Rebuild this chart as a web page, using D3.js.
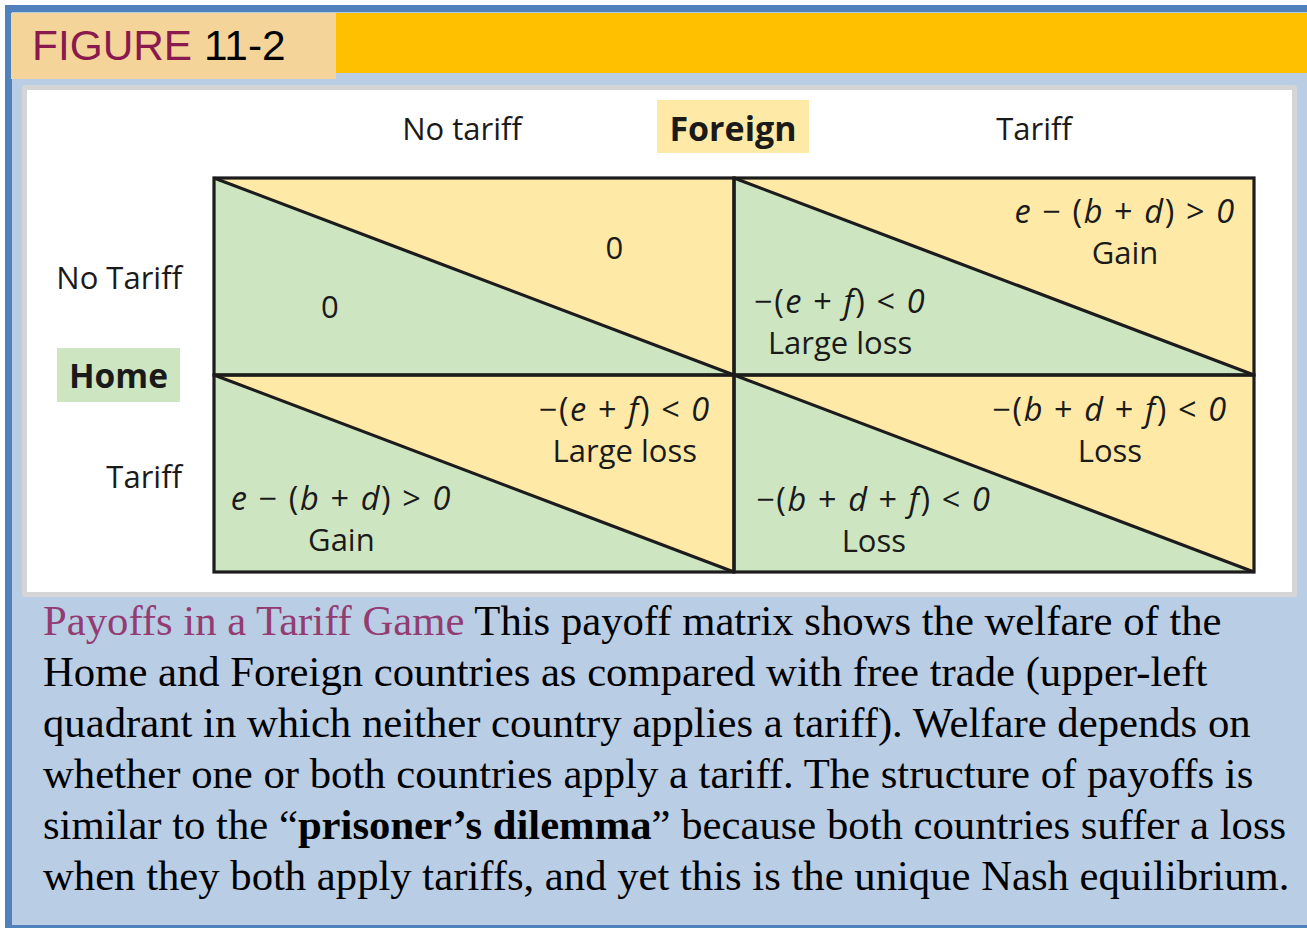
<!DOCTYPE html>
<html>
<head>
<meta charset="utf-8">
<script src="https://cdn.jsdelivr.net/npm/d3@7"></script>
<style>
  html, body { margin: 0; padding: 0; background: #ffffff; }
  svg { display: block; }
</style>
</head>
<body>
<svg id="chart" width="1307" height="928"></svg>
<script>
// ---------------- DATA ----------------
const figureLabel = "FIGURE";
const figureNumber = "11-2";
const playerColumn = "Foreign";
const playerRow = "Home";
const colCategories = ["No tariff", "Tariff"];
const rowCategories = ["No Tariff", "Tariff"];
// payoffs [row][col] : each as list of lines; first line may be a formula
const foreignPayoffs = [
  [["0"], ["e − (b + d) > 0", "Gain"]],
  [["−(e + f) < 0", "Large loss"], ["−(b + d + f) < 0", "Loss"]]
];
const homePayoffs = [
  [["0"], ["−(e + f) < 0", "Large loss"]],
  [["e − (b + d) > 0", "Gain"], ["−(b + d + f) < 0", "Loss"]]
];
const captionTitle = "Payoffs in a Tariff Game";
const captionLines = [
  [{t: " This payoff matrix shows the welfare of the"}],
  [{t: "Home and Foreign countries as compared with free trade (upper-left"}],
  [{t: "quadrant in which neither country applies a tariff). Welfare depends on"}],
  [{t: "whether one or both countries apply a tariff. The structure of payoffs is"}],
  [{t: "similar to the “"}, {t: "prisoner’s dilemma", b: true}, {t: "” because both countries suffer a loss"}],
  [{t: "when they both apply tariffs, and yet this is the unique Nash equilibrium."}]
];

// ---------------- DRAW ----------------
const svg = d3.select("#chart");
const W = 1307, H = 928;
const C = {
  darkBlue: "#4f81bd", lightBlue: "#b9cde5", tan: "#f4d499", orange: "#ffc000",
  gray: "#d5d5d5", green: "#cde6c1", yellow: "#feeaa6", line: "#1c1c1c",
  maroon: "#8a1a4e", purple: "#923c72"
};
const sans = "'Open Sans', 'Noto Sans', sans-serif";
const serif = "'Liberation Serif', 'Times New Roman', serif";

// frame
svg.append("rect").attr("x", 5).attr("y", 5).attr("width", W - 5).attr("height", H - 5)
  .attr("fill", C.darkBlue);
svg.append("rect").attr("x", 12).attr("y", 12).attr("width", W - 12).attr("height", H - 15)
  .attr("fill", C.lightBlue);
svg.append("rect").attr("x", 336).attr("y", 13).attr("width", W - 336).attr("height", 60)
  .attr("fill", C.orange);
svg.append("rect").attr("x", 11).attr("y", 13).attr("width", 325).attr("height", 66)
  .attr("fill", C.tan);
const ft = svg.append("text").attr("x", 32).attr("y", 60)
  .attr("font-family", "'Liberation Sans', Arial, sans-serif").attr("font-size", 42.4);
ft.append("tspan").attr("fill", C.maroon).text(figureLabel + " ");
ft.append("tspan").attr("fill", "#000").text(figureNumber);

// white panel
svg.append("rect").attr("x", 22).attr("y", 85).attr("width", 1275).attr("height", 512)
  .attr("rx", 3).attr("fill", C.gray);
svg.append("rect").attr("x", 27).attr("y", 90).attr("width", 1265).attr("height", 502)
  .attr("fill", "#ffffff");

// scales
const x = d3.scaleBand().domain(colCategories).range([214, 1254]).padding(0);
const y = d3.scaleBand().domain(rowCategories).range([178, 572]).padding(0);
const bw = x.bandwidth(), bh = y.bandwidth();

const cells = [];
rowCategories.forEach((r, i) => colCategories.forEach((c, j) => cells.push({r, c, i, j})));

const g = svg.append("g");
// triangles
g.selectAll("path.fg").data(cells).join("path")
  .attr("d", d => { const x0 = x(d.c), y0 = y(d.r);
    return `M${x0},${y0}L${x0 + bw},${y0}L${x0 + bw},${y0 + bh}Z`; })
  .attr("fill", C.yellow);
g.selectAll("path.hm").data(cells).join("path")
  .attr("d", d => { const x0 = x(d.c), y0 = y(d.r);
    return `M${x0},${y0}L${x0},${y0 + bh}L${x0 + bw},${y0 + bh}Z`; })
  .attr("fill", C.green);
// diagonals
g.selectAll("line.diag").data(cells).join("line")
  .attr("x1", d => x(d.c)).attr("y1", d => y(d.r))
  .attr("x2", d => x(d.c) + bw).attr("y2", d => y(d.r) + bh)
  .attr("stroke", C.line).attr("stroke-width", 3.2);
// grid
g.selectAll("rect.cell").data(cells).join("rect")
  .attr("x", d => x(d.c)).attr("y", d => y(d.r)).attr("width", bw).attr("height", bh)
  .attr("fill", "none").attr("stroke", C.line).attr("stroke-width", 3.2);

// payoff texts
function writeLines(sel, lines, cx, by, lh) {
  lines.forEach((ln, k) => {
    const t = sel.append("text").attr("x", cx).attr("y", by + k * lh)
      .attr("text-anchor", "middle").attr("font-family", sans).attr("font-size", 31)
      .attr("fill", "#1a1a1a");
    const isFormula = /[<>]/.test(ln);
    if (!isFormula) { t.text(ln); return; }
    t.attr("letter-spacing", 1.6).attr("font-size", 32.5);
    // split into runs: letters/digits italic
    const runs = [];
    for (const ch of ln) {
      const it = /[a-z0-9]/.test(ch);
      if (runs.length && runs[runs.length - 1].it === it) runs[runs.length - 1].s += ch;
      else runs.push({s: ch, it});
    }
    runs.forEach(rn => t.append("tspan").attr("font-style", rn.it ? "italic" : "normal")
      .text(rn.s));
  });
}
// text placement inside cell (fractions of band)
const foreignPos = [[[0.77, 0.41], [0.752, 0.23]], [[0.79, 0.235], [0.723, 0.235]]];
const homePos = [[[0.223, 0.71], [0.204, 0.685]], [[0.245, 0.685], [0.269, 0.69]]];
cells.forEach(d => {
  const x0 = x(d.c), y0 = y(d.r);
  const fp = foreignPos[d.i][d.j], hp = homePos[d.i][d.j];
  writeLines(g, foreignPayoffs[d.i][d.j], x0 + fp[0] * bw, y0 + fp[1] * bh, 41);
  writeLines(g, homePayoffs[d.i][d.j], x0 + hp[0] * bw, y0 + hp[1] * bh, 41);
});

// column labels
const colLabelY = 140;
svg.selectAll("text.col").data(colCategories).join("text")
  .attr("x", d => x(d) + bw / 2 + (d === colCategories[0] ? -12 : 40)).attr("y", colLabelY)
  .attr("text-anchor", "middle").attr("font-family", sans).attr("font-size", 31)
  .attr("fill", "#1a1a1a").text(d => d);
// row labels
svg.selectAll("text.row").data(rowCategories).join("text")
  .attr("x", 182).attr("y", d => y(d) + bh / 2 + (d === rowCategories[0] ? 12 : 14))
  .attr("text-anchor", "end").attr("font-family", sans).attr("font-size", 31)
  .attr("fill", "#1a1a1a").text(d => d);

// player labels
svg.append("rect").attr("x", 657).attr("y", 100).attr("width", 152).attr("height", 53)
  .attr("fill", C.yellow);
svg.append("text").attr("x", (657 + 809) / 2).attr("y", 141).attr("text-anchor", "middle")
  .attr("font-family", sans).attr("font-weight", "bold").attr("font-size", 34)
  .attr("fill", "#1a1a1a").text(playerColumn);
svg.append("rect").attr("x", 57).attr("y", 348).attr("width", 123).attr("height", 54)
  .attr("fill", C.green);
svg.append("text").attr("x", (57 + 180) / 2).attr("y", 388).attr("text-anchor", "middle")
  .attr("font-family", sans).attr("font-weight", "bold").attr("font-size", 33.5)
  .attr("fill", "#1a1a1a").text(playerRow);

// caption
const capX = 43, capY0 = 635, capLH = 51;
captionLines.forEach((ln, k) => {
  const t = svg.append("text").attr("x", capX).attr("y", capY0 + k * capLH)
    .attr("font-family", serif).attr("font-size", 42.7).attr("fill", "#000");
  if (k === 0) t.append("tspan").attr("fill", C.purple).text(captionTitle);
  ln.forEach(p => t.append("tspan").attr("font-weight", p.b ? "bold" : "normal").text(p.t));
});
</script>
</body>
</html>
